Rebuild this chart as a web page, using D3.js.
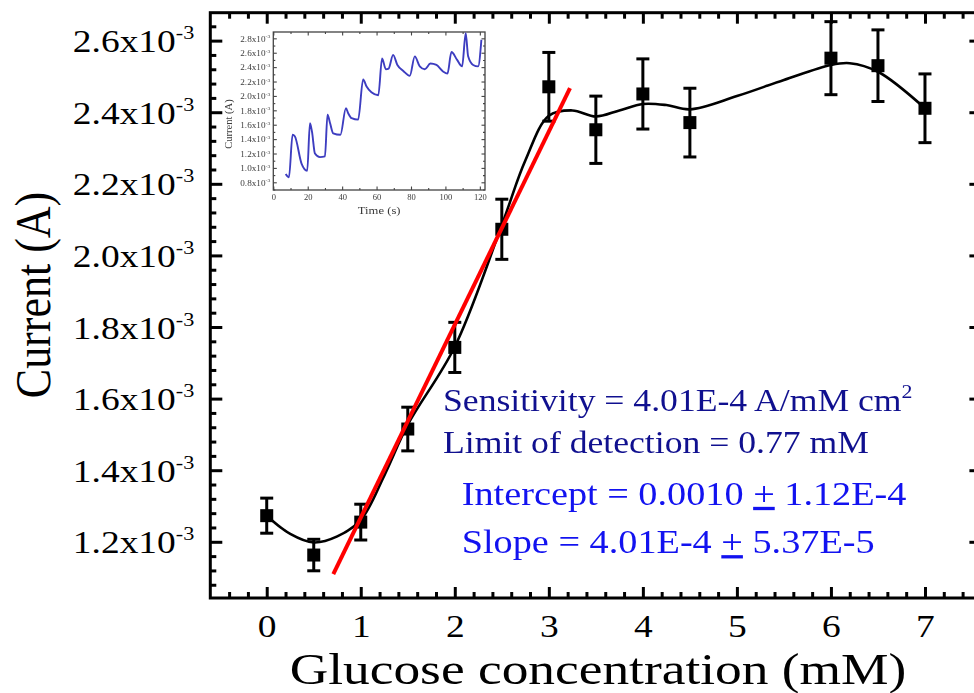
<!DOCTYPE html>
<html>
<head>
<meta charset="utf-8">
<script src="https://cdn.jsdelivr.net/npm/d3@7"></script>
<style>
  html, body { margin: 0; padding: 0; background: #fff; }
  svg { display: block; }
  text { font-family: "Liberation Serif", "Times New Roman", serif; }
</style>
</head>
<body>
<svg id="chart" width="974" height="693"></svg>
<script>
// ---- Calibration data: glucose concentration vs. current ----
const concentration = [0, 0.5, 1, 1.5, 2, 2.5, 3, 3.5, 4, 4.5, 6, 6.5, 7];           // mM
const currentMean   = [1.273e-3, 1.163e-3, 1.255e-3, 1.515e-3, 1.743e-3, 2.073e-3, 2.471e-3,
                       2.351e-3, 2.451e-3, 2.371e-3, 2.551e-3, 2.530e-3, 2.411e-3];  // A
const currentErr    = [0.049e-3, 0.044e-3, 0.050e-3, 0.061e-3, 0.070e-3, 0.084e-3, 0.096e-3,
                       0.094e-3, 0.098e-3, 0.096e-3, 0.102e-3, 0.100e-3, 0.096e-3];  // A

// Smoothed trend through the calibration points
const trendX = [0, 0.25, 0.5, 0.75, 1, 1.25, 1.5, 2, 2.5, 2.75, 3, 3.25, 3.5, 3.75, 4, 4.25, 4.5, 5, 5.5, 6, 6.2, 6.5, 7];
const trendY = [1.273e-3, 1.222e-3, 1.198e-3, 1.215e-3, 1.261e-3, 1.385e-3, 1.527e-3, 1.745e-3, 2.085e-3,
                2.265e-3, 2.390e-3, 2.405e-3, 2.388e-3, 2.405e-3, 2.423e-3, 2.420e-3, 2.408e-3, 2.445e-3,
                2.490e-3, 2.532e-3, 2.537e-3, 2.513e-3, 2.411e-3];

// Linear-range fit line (end points)
const fitX = [0.708, 3.225];
const fitY = [1.110e-3, 2.467e-3];

// Axis ticks
const xTicks = [0, 1, 2, 3, 4, 5, 6, 7];
const yTicks = [1.2e-3, 1.4e-3, 1.6e-3, 1.8e-3, 2.0e-3, 2.2e-3, 2.4e-3, 2.6e-3];

// Fit statistics
const statsDark = ["Sensitivity = 4.01E-4 A/mM cm", "Limit of detection = 0.77 mM"];
const statsBlue = [["Intercept = 0.0010 ", "+", " 1.12E-4"], ["Slope = 4.01E-4 ", "+", " 5.37E-5"]];

// ---- Amperometric response (inset) ----
const insetTime = [7.2, 9.1, 11.2, 12.5, 16.4, 19.7, 21.3, 22.5, 24.2, 27.1, 30, 31.5, 33, 34.8, 39, 42.2, 43.5,
                   45.5, 49.3, 52.2, 54.2, 57, 61, 63.2, 65.4, 67, 69.6, 72.1, 75.4, 79.3, 82.2, 85.1, 88, 91.3,
                   94.8, 98.6, 101.2, 103.5, 106.8, 109.7, 111.8, 113.2, 116.1, 119, 120.9];
const insetCurrent = [0.916, 0.87, 1.46, 1.44, 1.06, 0.96, 1.62, 1.50, 1.20, 1.15, 1.16, 1.74, 1.62, 1.48, 1.46,
                      1.83, 1.76, 1.69, 1.67, 2.23, 2.13, 2.05, 2.01, 2.52, 2.37, 2.38, 2.57, 2.43, 2.35, 2.28,
                      2.55, 2.41, 2.37, 2.45, 2.43, 2.34, 2.31, 2.61, 2.50, 2.41, 2.87, 2.55, 2.43, 2.41, 2.78]
                      .map(v => v * 1e-3);
const insetXTicks = [0, 20, 40, 60, 80, 100, 120];
const insetYTicks = [0.8e-3, 1.0e-3, 1.2e-3, 1.4e-3, 1.6e-3, 1.8e-3, 2.0e-3, 2.2e-3, 2.4e-3, 2.6e-3, 2.8e-3];

// ---- Layout ----
const svg = d3.select("#chart");
const SX = 1.17; // horizontal glyph stretch used for all text

const x = d3.scaleLinear().domain([-0.6, 7.6]).range([210.3, 981.4]);
const y = d3.scaleLinear().domain([1.043e-3, 2.678e-3]).range([598, 12.7]);
const [x0, x1] = x.range();
const [yb, yt] = y.range();

const minorX = d3.range(-0.4, 7.6, 0.2).filter(v => Math.abs(v - Math.round(v)) > 1e-6);
const minorY = d3.range(1.08e-3, 2.678e-3, 0.04e-3).filter(v => Math.abs(v * 5e3 - Math.round(v * 5e3)) > 1e-6);

function styleAxis(g, w) {
  g.select(".domain").remove();
  g.selectAll(".tick line").attr("stroke", "#000").attr("stroke-width", w);
}

// minor ticks (all four sides)
svg.append("g").attr("transform", `translate(0,${yb})`)
  .call(d3.axisBottom(x).tickValues(minorX).tickSize(-6).tickFormat(""))
  .call(g => styleAxis(g, 3));
svg.append("g").attr("transform", `translate(0,${yt})`)
  .call(d3.axisTop(x).tickValues(minorX).tickSize(-6).tickFormat(""))
  .call(g => styleAxis(g, 3));
svg.append("g").attr("transform", `translate(${x0},0)`)
  .call(d3.axisLeft(y).tickValues(minorY).tickSize(-6).tickFormat(""))
  .call(g => styleAxis(g, 3));
svg.append("g").attr("transform", `translate(${x1},0)`)
  .call(d3.axisRight(y).tickValues(minorY).tickSize(-6).tickFormat(""))
  .call(g => styleAxis(g, 3));

// major ticks
const bottomAxis = svg.append("g").attr("transform", `translate(0,${yb})`)
  .call(d3.axisBottom(x).tickValues(xTicks).tickSize(-11).tickFormat(""))
  .call(g => styleAxis(g, 3));
svg.append("g").attr("transform", `translate(0,${yt})`)
  .call(d3.axisTop(x).tickValues(xTicks).tickSize(-11).tickFormat(""))
  .call(g => styleAxis(g, 3));
const leftAxis = svg.append("g").attr("transform", `translate(${x0},0)`)
  .call(d3.axisLeft(y).tickValues(yTicks).tickSize(-12).tickFormat(""))
  .call(g => styleAxis(g, 3));
svg.append("g").attr("transform", `translate(${x1},0)`)
  .call(d3.axisRight(y).tickValues(yTicks).tickSize(-12).tickFormat(""))
  .call(g => styleAxis(g, 3));

// tick labels
bottomAxis.selectAll(".tick").append("text")
  .attr("transform", `translate(0,38.5) scale(${SX},1)`)
  .attr("text-anchor", "middle").attr("fill", "#000")
  .style("font-size", "32px")
  .text(d => d3.format("d")(d));

leftAxis.selectAll(".tick").each(function(d) {
  const t = d3.select(this).append("text")
    .attr("transform", `translate(-16,11) scale(${SX},1)`)
    .attr("text-anchor", "end").attr("fill", "#000")
    .style("font-size", "32px");
  t.append("tspan").text((d * 1e3).toFixed(1) + "x10");
  t.append("tspan").attr("dy", -13).style("font-size", "19px").text("-3");
});

// frame
svg.append("rect")
  .attr("x", x0).attr("y", yt).attr("width", x1 - x0).attr("height", yb - yt)
  .attr("fill", "none").attr("stroke", "#000").attr("stroke-width", 3);

// axis titles
svg.append("text")
  .attr("transform", `translate(598,684) scale(1.2,1)`)
  .attr("text-anchor", "middle").style("font-size", "44.5px").attr("fill", "#000")
  .text("Glucose concentration (mM)");
svg.append("text")
  .attr("transform", `translate(50,295) scale(${SX},1) rotate(-90)`)
  .attr("text-anchor", "middle").style("font-size", "44px").attr("fill", "#000")
  .text("Current (A)");

// ---- Inset ----
const ix = d3.scaleLinear().domain([0, 123]).range([273.3, 485]);
const iy = d3.scaleLinear().domain([0.693e-3, 2.888e-3]).range([190, 32]);
const defs = svg.append("defs");
defs.append("filter").attr("id", "soft").attr("x", "-10%").attr("y", "-10%").attr("width", "120%").attr("height", "120%")
  .append("feGaussianBlur").attr("stdDeviation", 0.6);
defs.append("clipPath").attr("id", "insetClip").append("rect")
  .attr("x", ix.range()[0]).attr("y", iy.range()[1])
  .attr("width", ix.range()[1] - ix.range()[0]).attr("height", iy.range()[0] - iy.range()[1]);

const inset = svg.append("g").attr("filter", "url(#soft)");
const [ix0, ix1] = ix.range();
const [iyb, iyt] = iy.range();

function styleInsetAxis(g) {
  g.select(".domain").remove();
  g.selectAll(".tick line").attr("stroke", "#444").attr("stroke-width", 1.1);
}
const iMinorX = d3.range(10, 123, 20);
const iMinorY = d3.range(0.7e-3, 2.888e-3, 0.1e-3).filter(v => Math.abs(v * 5e3 - Math.round(v * 5e3)) > 1e-6);

inset.append("g").attr("transform", `translate(0,${iyb})`)
  .call(d3.axisBottom(ix).tickValues(iMinorX).tickSize(-2).tickFormat("")).call(styleInsetAxis);
inset.append("g").attr("transform", `translate(0,${iyt})`)
  .call(d3.axisTop(ix).tickValues(iMinorX).tickSize(-2).tickFormat("")).call(styleInsetAxis);
inset.append("g").attr("transform", `translate(${ix0},0)`)
  .call(d3.axisLeft(iy).tickValues(iMinorY).tickSize(-2).tickFormat("")).call(styleInsetAxis);
inset.append("g").attr("transform", `translate(${ix1},0)`)
  .call(d3.axisRight(iy).tickValues(iMinorY).tickSize(-2).tickFormat("")).call(styleInsetAxis);

const iBottom = inset.append("g").attr("transform", `translate(0,${iyb})`)
  .call(d3.axisBottom(ix).tickValues(insetXTicks).tickSize(-3.5).tickFormat("")).call(styleInsetAxis);
inset.append("g").attr("transform", `translate(0,${iyt})`)
  .call(d3.axisTop(ix).tickValues(insetXTicks).tickSize(-3.5).tickFormat("")).call(styleInsetAxis);
const iLeft = inset.append("g").attr("transform", `translate(${ix0},0)`)
  .call(d3.axisLeft(iy).tickValues(insetYTicks).tickSize(-3.5).tickFormat("")).call(styleInsetAxis);
inset.append("g").attr("transform", `translate(${ix1},0)`)
  .call(d3.axisRight(iy).tickValues(insetYTicks).tickSize(-3.5).tickFormat("")).call(styleInsetAxis);

iBottom.selectAll(".tick").append("text")
  .attr("y", 9.5).attr("text-anchor", "middle").attr("fill", "#3a3a3a")
  .style("font-size", "8.5px").text(d => d);
iLeft.selectAll(".tick").each(function(d) {
  const t = d3.select(this).append("text")
    .attr("transform", "translate(-3,2.8) scale(1.15,1)").attr("text-anchor", "end").attr("fill", "#3a3a3a")
    .style("font-size", "8px");
  t.append("tspan").text((d * 1e3).toFixed(1) + "x10");
  t.append("tspan").attr("dy", -3.2).style("font-size", "5px").text("-3");
});

inset.append("rect")
  .attr("x", ix0).attr("y", iyt).attr("width", ix1 - ix0).attr("height", iyb - iyt)
  .attr("fill", "none").attr("stroke", "#444").attr("stroke-width", 1.3);

inset.append("path")
  .datum(insetTime.map((t, i) => [t, insetCurrent[i]]))
  .attr("clip-path", "url(#insetClip)")
  .attr("fill", "none").attr("stroke", "#3c3cc0").attr("stroke-width", 1.9)
  .attr("stroke-linejoin", "round")
  .attr("d", d3.line().x(d => ix(d[0])).y(d => iy(d[1])).curve(d3.curveMonotoneX));

inset.append("text")
  .attr("transform", `translate(${(ix0 + ix1) / 2},214) scale(1.15,1)`).attr("text-anchor", "middle")
  .attr("fill", "#3a3a3a").style("font-size", "11px").text("Time (s)");
inset.append("text")
  .attr("transform", `translate(232,124) rotate(-90)`).attr("text-anchor", "middle")
  .attr("fill", "#3a3a3a").style("font-size", "10.5px").text("Current (A)");

// ---- Calibration marks ----
const pts = concentration.map((c, i) => ({ c, m: currentMean[i], e: currentErr[i] }));

svg.append("path")
  .datum(trendX.map((t, i) => [t, trendY[i]]))
  .attr("fill", "none").attr("stroke", "#000").attr("stroke-width", 2.6)
  .attr("d", d3.line().x(d => x(d[0])).y(d => y(d[1])).curve(d3.curveCatmullRom.alpha(0.5)));

const eb = svg.append("g").attr("stroke", "#000").attr("stroke-width", 3);
eb.selectAll("line.v").data(pts).join("line").attr("class", "v")
  .attr("x1", d => x(d.c)).attr("x2", d => x(d.c))
  .attr("y1", d => y(d.m + d.e)).attr("y2", d => y(d.m - d.e));
eb.selectAll("line.top").data(pts).join("line").attr("class", "top")
  .attr("x1", d => x(d.c) - 6.5).attr("x2", d => x(d.c) + 6.5)
  .attr("y1", d => y(d.m + d.e)).attr("y2", d => y(d.m + d.e));
eb.selectAll("line.bot").data(pts).join("line").attr("class", "bot")
  .attr("x1", d => x(d.c) - 6.5).attr("x2", d => x(d.c) + 6.5)
  .attr("y1", d => y(d.m - d.e)).attr("y2", d => y(d.m - d.e));

svg.append("g").selectAll("rect").data(pts).join("rect")
  .attr("x", d => x(d.c) - 6.5).attr("y", d => y(d.m) - 6.5)
  .attr("width", 13).attr("height", 13).attr("fill", "#000");

svg.append("line")
  .attr("x1", x(fitX[0])).attr("y1", y(fitY[0]))
  .attr("x2", x(fitX[1])).attr("y2", y(fitY[1]))
  .attr("stroke", "#ff0000").attr("stroke-width", 4);

// ---- Fit statistics ----
const darkTxt = svg.append("g").attr("fill", "#10108f").style("font-size", "31px");
statsDark.forEach((s, i) => {
  const t = darkTxt.append("text")
    .attr("transform", `translate(443,${[410.7, 453.3][i]}) scale(${SX - 0.02},1)`);
  t.append("tspan").text(s);
  if (i === 0) t.append("tspan").attr("dy", -13).style("font-size", "19px").text("2");
});
const blueTxt = svg.append("g").attr("fill", "#1212f0").style("font-size", "33px");
statsBlue.forEach((parts, i) => {
  const t = blueTxt.append("text")
    .attr("transform", `translate(461.7,${[505, 553.3][i]}) scale(${SX - 0.01},1)`);
  t.append("tspan").text(parts[0]);
  t.append("tspan").style("text-decoration", "underline").text(parts[1]);
  t.append("tspan").text(parts[2]);
});
</script>
</body>
</html>
